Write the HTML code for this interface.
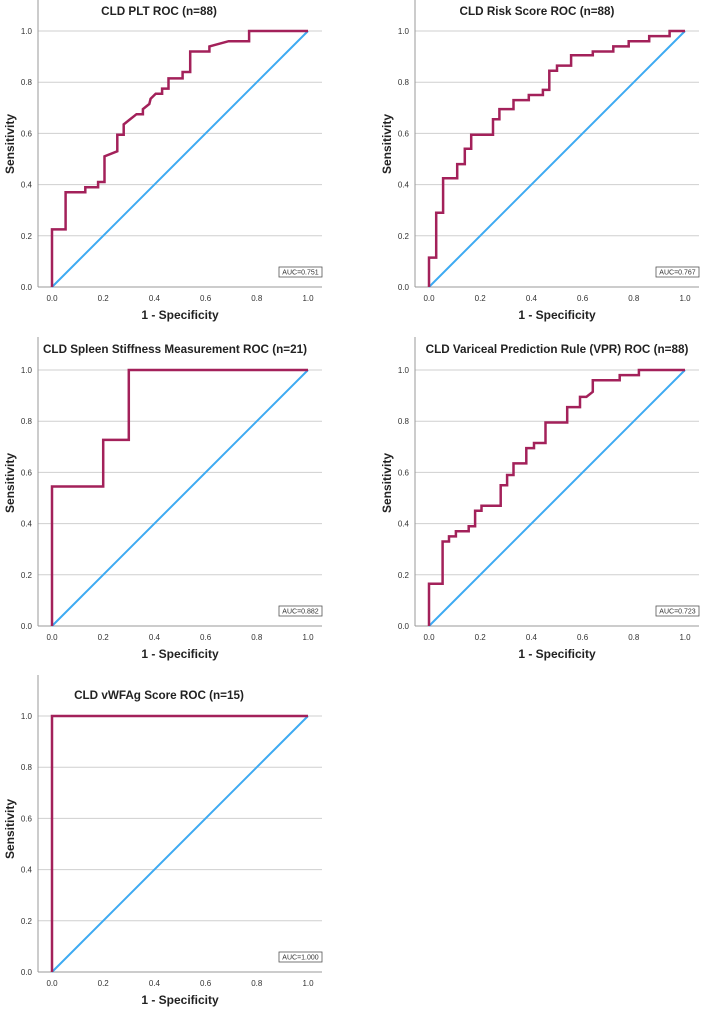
<!DOCTYPE html>
<html><head><meta charset="utf-8"><style>
body{margin:0;background:#fff;}
svg{display:block;font-family:"Liberation Sans",sans-serif;}
</style></head><body>
<svg id="fig" width="702" height="1009" viewBox="0 0 702 1009"></svg>
<script>
// Panel data: ROC curve vertices (1 - specificity, sensitivity)
const pltFpr = [0,0,0.053,0.053,0.13,0.13,0.18,0.18,0.205,0.205,0.255,0.255,0.28,0.28,0.33,0.355,0.355,0.38,0.385,0.405,0.43,0.43,0.455,0.455,0.51,0.51,0.54,0.54,0.615,0.615,0.69,0.77,0.77,1];
const pltTpr = [0,0.225,0.225,0.37,0.37,0.39,0.39,0.41,0.41,0.51,0.53,0.595,0.595,0.635,0.675,0.675,0.695,0.715,0.735,0.755,0.755,0.775,0.775,0.815,0.815,0.84,0.84,0.92,0.92,0.94,0.96,0.96,1,1];
const riskFpr = [0,0,0.028,0.028,0.055,0.055,0.11,0.11,0.14,0.14,0.165,0.165,0.25,0.25,0.275,0.275,0.33,0.33,0.39,0.39,0.445,0.445,0.47,0.47,0.5,0.5,0.555,0.555,0.64,0.64,0.72,0.72,0.78,0.78,0.86,0.86,0.94,0.94,1];
const riskTpr = [0,0.115,0.115,0.29,0.29,0.425,0.425,0.48,0.48,0.54,0.54,0.595,0.595,0.655,0.655,0.695,0.695,0.73,0.73,0.75,0.75,0.77,0.77,0.845,0.845,0.865,0.865,0.905,0.905,0.92,0.92,0.94,0.94,0.96,0.96,0.98,0.98,1,1];
const ssmFpr = [0,0,0.2,0.2,0.3,0.3,1];
const ssmTpr = [0,0.545,0.545,0.727,0.727,1,1];
const vprFpr = [0,0,0.053,0.053,0.078,0.078,0.105,0.105,0.155,0.155,0.18,0.18,0.205,0.205,0.28,0.28,0.305,0.305,0.33,0.33,0.38,0.38,0.41,0.41,0.455,0.455,0.54,0.54,0.59,0.59,0.615,0.64,0.64,0.745,0.745,0.82,0.82,1];
const vprTpr = [0,0.165,0.165,0.33,0.33,0.35,0.35,0.37,0.37,0.39,0.39,0.45,0.45,0.47,0.47,0.55,0.55,0.59,0.59,0.635,0.635,0.695,0.695,0.715,0.715,0.795,0.795,0.855,0.855,0.895,0.895,0.915,0.96,0.96,0.98,0.98,1,1];
const vwfFpr = [0,0,1];
const vwfTpr = [0,1,1];
const titles = ["CLD PLT ROC (n=88)","CLD Risk Score ROC (n=88)","CLD Spleen Stiffness Measurement ROC (n=21)","CLD Variceal Prediction Rule (VPR) ROC (n=88)","CLD vWFAg Score ROC (n=15)"];
const aucLabels = ["AUC=0.751","AUC=0.767","AUC=0.882","AUC=0.723","AUC=1.000"];
const tickValues = [0,0.2,0.4,0.6,0.8,1.0];
const tickLabels = ["0.0","0.2","0.4","0.6","0.8","1.0"];
const series = [[pltFpr,pltTpr],[riskFpr,riskTpr],[ssmFpr,ssmTpr],[vprFpr,vprTpr],[vwfFpr,vwfTpr]];

const NS="http://www.w3.org/2000/svg";
const svg=document.getElementById('fig');
function mk(tag,attrs,parent){const e=document.createElementNS(NS,tag);for(const k in attrs)e.setAttribute(k,attrs[k]);(parent||svg).appendChild(e);return e;}

const layouts=[
 {ax:38,top:0,x0:52,x1:308,y0:287,y1:31,gr:322,tc:159,ty:15},
 {ax:415,top:0,x0:429,x1:685,y0:287,y1:31,gr:699,tc:537,ty:15},
 {ax:38,top:337,x0:52,x1:308,y0:626,y1:370,gr:322,tc:175,ty:353},
 {ax:415,top:337,x0:429,x1:685,y0:626,y1:370,gr:699,tc:557,ty:353},
 {ax:38,top:675,x0:52,x1:308,y0:972,y1:716,gr:322,tc:159,ty:699}
];

layouts.forEach((L,i)=>{
 const g=mk('g',{});
 
 
 const sx=v=>L.x0+v*(L.x1-L.x0);
 const sy=v=>L.y0-v*(L.y0-L.y1);
 tickValues.forEach((t,k)=>{
  if(k>0){const gl=mk('line',{x1:L.ax,x2:L.gr,y1:sy(t),y2:sy(t),stroke:'#cfcfcf','stroke-width':1},g);
  
  }
  const yl=mk('text',{x:L.ax-6,y:sy(t)+3,'font-size':8,'text-anchor':'end',fill:'#333'},g);
  yl.textContent=tickLabels[k];
  
  
  const xl=mk('text',{x:sx(t),y:L.y0+14,'font-size':8,'text-anchor':'middle',fill:'#333'},g);
  xl.textContent=tickLabels[k];
  
  
 });
 const ya=mk('line',{x1:L.ax,x2:L.ax,y1:L.top,y2:L.y0,stroke:'#999','stroke-width':1},g);
 
 
 const xa=mk('line',{x1:L.ax,x2:L.gr,y1:L.y0,y2:L.y0,stroke:'#999','stroke-width':1},g);
 
 
 const d=mk('line',{x1:sx(0),y1:sy(0),x2:sx(1),y2:sy(1),stroke:'#3daaf2','stroke-width':2},g);
 
 
 const [fx,ty]=series[i];
 const pts=fx.map((v,k)=>sx(v).toFixed(1)+','+sy(ty[k]).toFixed(1)).join(' ');
 const c=mk('polyline',{points:pts,fill:'none',stroke:'#a3215a','stroke-width':2.5,'stroke-linejoin':'miter'},g);
 
 
 const t=mk('text',{x:L.tc,y:L.ty,'font-size':11.7,'font-weight':'bold','text-anchor':'middle',fill:'#222'},g);
 t.textContent=titles[i];
 
 
 const xt=mk('text',{x:(L.x0+L.x1)/2,y:L.y0+32,'font-size':12,'font-weight':'bold','text-anchor':'middle',fill:'#222'},g);
 xt.textContent='1 - Specificity';
 
 
 const cy=(L.y0+L.y1)/2-15, cx=L.ax-24;
 const yt=mk('text',{x:cx,y:cy,'font-size':12,'font-weight':'bold','text-anchor':'middle',fill:'#222',transform:'rotate(-90 '+cx+' '+cy+')'},g);
 yt.textContent='Sensitivity';
 
 
 const bw=43;
 const b=mk('rect',{x:L.gr-bw,y:L.y0-20,width:bw,height:10,fill:'#fff',stroke:'#555','stroke-width':0.8},g);
 
 
 const a=mk('text',{x:L.gr-bw/2,y:L.y0-12.3,'font-size':7,'text-anchor':'middle',fill:'#333'},g);
 a.textContent=aucLabels[i];
 
 
});
</script>
</body></html>
